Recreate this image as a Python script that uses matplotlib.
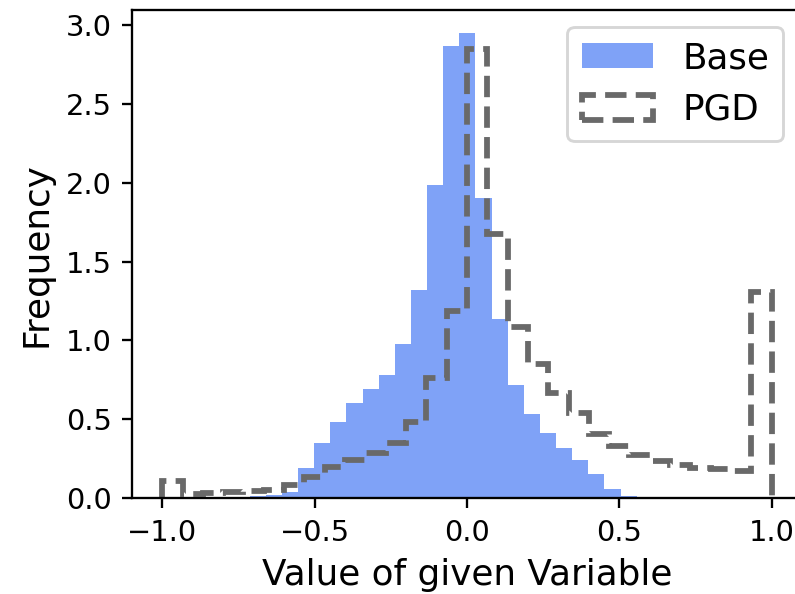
import numpy as np
import matplotlib
matplotlib.use("Agg")
import matplotlib.pyplot as plt

# ---- data (density histograms) ----
base_range = (-0.713, 0.557)
base_heights = [0.014, 0.018, 0.042, 0.194, 0.348, 0.486, 0.602, 0.693,
                0.781, 0.976, 1.32, 1.985, 2.868, 2.947, 1.901, 1.136,
                0.718, 0.532, 0.416, 0.321, 0.243, 0.152, 0.059, 0.015]

pgd_range = (-1.0, 1.0)
pgd_heights = [0.11, 0.03, 0.032, 0.038, 0.045, 0.055, 0.085, 0.135,
               0.196, 0.243, 0.29, 0.35, 0.485, 0.764, 1.19, 2.85,
               1.675, 1.084, 0.85, 0.665, 0.54, 0.41, 0.333, 0.274,
               0.237, 0.211, 0.19, 0.184, 0.17, 1.31]

series_labels = ["Base", "PGD"]
x_label = "Value of given Variable"
y_label = "Frequency"

# ---- figure ----
DPI = 208
fig = plt.figure(figsize=(795 / DPI, 594 / DPI), dpi=DPI)
ax = fig.add_axes([0.1657, 0.1611, 0.8433, 0.8221])

base_edges = np.linspace(base_range[0], base_range[1], len(base_heights) + 1)
base_centers = (base_edges[:-1] + base_edges[1:]) / 2
pgd_edges = np.linspace(pgd_range[0], pgd_range[1], len(pgd_heights) + 1)
pgd_centers = (pgd_edges[:-1] + pgd_edges[1:]) / 2

ax.hist(base_centers, bins=base_edges, weights=base_heights,
        color="#7fa2f7", label=series_labels[0])
ax.hist(pgd_centers, bins=pgd_edges, weights=pgd_heights,
        histtype="step", linestyle="--", linewidth=2, color="dimgray",
        label=series_labels[1])

ax.set_xlabel(x_label, fontsize=12.4)
ax.set_ylabel(y_label, fontsize=12.4)
ax.tick_params(labelsize=10)

ax.legend(fontsize=12.4, loc="upper right",
          bbox_to_anchor=(783.3 / 795, 1 - 26.7 / 594),
          bbox_transform=fig.transFigure, borderaxespad=0)

fig.savefig("out.png", dpi=DPI)
